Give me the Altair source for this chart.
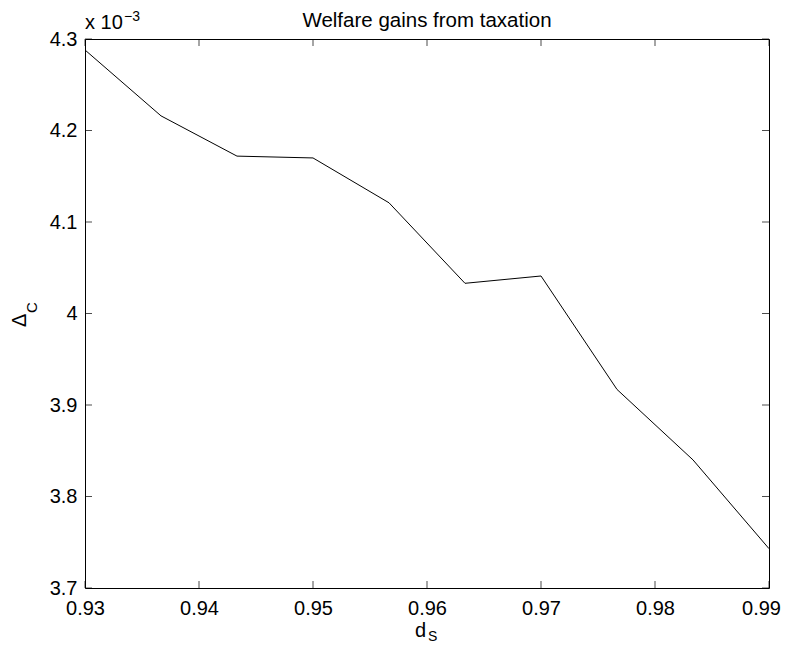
import altair as alt
import pandas as pd

# data (values in units of 1e-3)
d_s = [0.93, 0.936667, 0.943333, 0.95, 0.956667, 0.963333, 0.97, 0.976667, 0.983333, 0.99]
delta_c = [4.288, 4.216, 4.172, 4.170, 4.121, 4.033, 4.041, 3.917, 3.840, 3.743]
x_ticks = [0.93, 0.94, 0.95, 0.96, 0.97, 0.98, 0.99]
y_ticks = [3.7, 3.8, 3.9, 4.0, 4.1, 4.2, 4.3]

FONT = "Liberation Sans"
W, H = 684, 549

df = pd.DataFrame({"x": d_s, "y": delta_c})
xt = pd.DataFrame({"x": x_ticks})
yt = pd.DataFrame({"y": y_ticks})

xscale = alt.Scale(domain=[0.93, 0.99], nice=False, zero=False)
yscale = alt.Scale(domain=[3.7, 4.3], nice=False, zero=False)

xaxis = alt.Axis(values=x_ticks, format=".2f", ticks=False, tickSize=0, domain=False,
                 grid=False, labelFontSize=20, labelFont=FONT, labelColor="black",
                 labelPadding=10, labelFlush=False, labelOverlap=False, labelBound=False,
                 labelOffset={"condition": {"test": "datum.value > 0.985", "value": -8},
                              "value": 0})
yaxis = alt.Axis(values=y_ticks, format="~g", ticks=False, tickSize=0, domain=False,
                 grid=False, labelFontSize=20, labelFont=FONT, labelColor="black",
                 labelPadding=8, labelFlush=False, labelOverlap=False, labelBound=False)


def xenc():
    return alt.X("x:Q", scale=xscale, title=None, axis=xaxis)


def yenc():
    return alt.Y("y:Q", scale=yscale, title=None, axis=yaxis)


line = alt.Chart(df).mark_line(color="black", strokeWidth=1).encode(x=xenc(), y=yenc())

tick_bottom = alt.Chart(xt).mark_tick(orient="vertical", size=7, thickness=1, color="black",
                                      yOffset=-3.5).encode(x=xenc(), y=alt.value(H))
tick_top = alt.Chart(xt).mark_tick(orient="vertical", size=7, thickness=1, color="black",
                                   yOffset=3.5).encode(x=xenc(), y=alt.value(0))
tick_left = alt.Chart(yt).mark_tick(orient="horizontal", size=7, thickness=1, color="black",
                                    xOffset=3.5).encode(y=yenc(), x=alt.value(0))
tick_right = alt.Chart(yt).mark_tick(orient="horizontal", size=7, thickness=1, color="black",
                                     xOffset=-3.5).encode(y=yenc(), x=alt.value(W))


def label(text, x, y, size, angle=0, align="left", baseline="alphabetic"):
    return alt.Chart(pd.DataFrame({"t": [text]})).mark_text(
        font=FONT, fontSize=size, color="black", align=align, baseline=baseline, angle=angle
    ).encode(x=alt.value(x), y=alt.value(y), text="t:N")


title = label("Welfare gains from taxation", W / 2, -12, 20.5, align="center")
exp1 = label("x 10", 0, -10, 20)
exp2 = label("\u22123", 39, -18, 14)
xlab1 = label("d", 330, 598, 20)
xlab2 = label("S", 343, 602, 14)
ylab1 = label("\u0394", -59, 288, 20, angle=270)
ylab2 = label("C", -48, 274, 15, angle=270)

chart = alt.layer(
    line, tick_bottom, tick_top, tick_left, tick_right,
    title, exp1, exp2, xlab1, xlab2, ylab1, ylab2
).properties(
    width=W, height=H,
    autosize=alt.AutoSizeParams(type="none"),
    padding={"left": 77, "top": 31, "right": 13, "bottom": 57},
    background="white",
).configure_view(stroke="black", strokeWidth=1)

chart.save("out.html", embed_options={"renderer": "svg", "actions": False})
